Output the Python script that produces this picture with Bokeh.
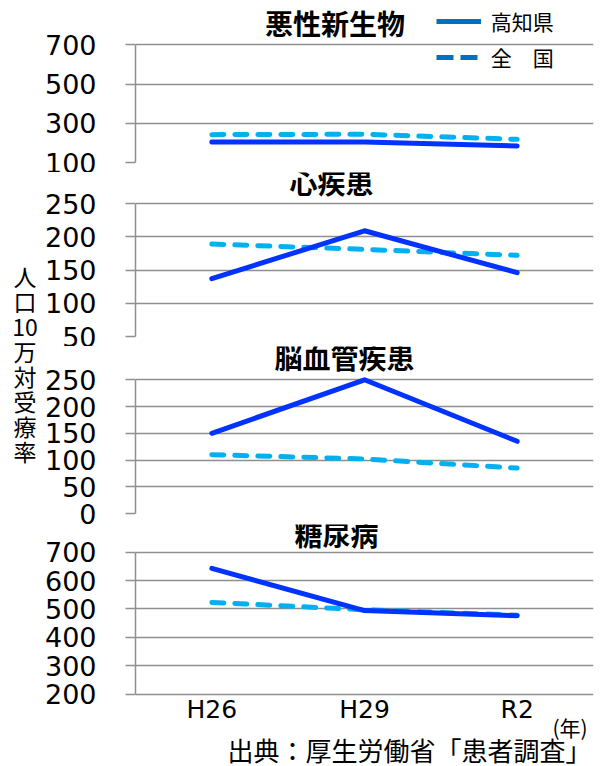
from bokeh.plotting import figure
from bokeh.models import (Range1d, FactorRange, FixedTicker, Label, Legend,
                          LegendItem, ColumnDataSource)
from bokeh.layouts import row, column
from bokeh.embed import file_html
from bokeh.resources import INLINE
from bokeh.core.properties import value

# ---------------- data ----------------
years = ["H26", "H29", "R2"]
series_names = ["高知県", "全　国"]
panel_titles = ["悪性新生物", "心疾患", "脳血管疾患", "糖尿病"]

kochi_cancer = [205, 205, 184]
nation_cancer = [242, 244, 218]
kochi_heart = [137, 209, 146]
nation_heart = [189, 181, 172]
kochi_stroke = [150, 250, 135]
nation_stroke = [110, 102, 85]
kochi_diabetes = [643, 494, 476]
nation_diabetes = [523, 497, 478]

ticks_cancer = [100, 300, 500, 700]
ticks_heart = [50, 100, 150, 200, 250]
ticks_stroke = [0, 50, 100, 150, 200, 250]
ticks_diabetes = [200, 300, 400, 500, 600, 700]

y_label_text = "人\n口\n10\n万\n対\n受\n療\n率"
year_unit_text = "(年)"
source_text = "出典：厚生労働省「患者調査」"

# ---------------- style / geometry (page pixels) ----------------
KOCHI = "#0033FF"
NATION = "#00B0F0"
LEGEND_COLOR = "#0070C0"
GRID = "#8F8F8F"
JP = "Noto Sans CJK JP"
NUM = "DejaVu Sans"

TOTAL_W, TOTAL_H = 613, 766
STRIP_W = 37
PANEL_W = TOTAL_W - STRIP_W
FRAME_LEFT = 135        # stacked plots share one frame edge
FRAME_RIGHT = 593


def make_panel(title, kochi, nation, ticks, canvas_top, canvas_bottom,
               grid_top, grid_bottom, frame_bottom, title_xy, show_x=False):
    height = int(canvas_bottom - canvas_top)
    upp = (ticks[-1] - ticks[0]) / (grid_bottom - grid_top)
    y_end = ticks[-1] + (grid_top - canvas_top) * upp
    y_start = ticks[0] - (frame_bottom - grid_bottom) * upp
    p = figure(width=PANEL_W, height=height,
               x_range=FactorRange(*years),
               y_range=Range1d(y_start, y_end),
               output_backend="svg", toolbar_location=None,
               x_axis_location="below" if show_x else None,
               y_axis_location="left", title_location=None,
               min_border_left=FRAME_LEFT - STRIP_W,
               min_border_right=TOTAL_W - FRAME_RIGHT,
               min_border_top=0,
               min_border_bottom=int(canvas_bottom - frame_bottom))
    p.outline_line_color = None
    p.xgrid.grid_line_color = None
    p.ygrid.grid_line_color = GRID
    p.ygrid.grid_line_width = 1.5
    p.ygrid.ticker = FixedTicker(ticks=ticks)

    ax = p.yaxis[0]
    ax.ticker = FixedTicker(ticks=ticks)
    ax.bounds = (ticks[0], ticks[-1])
    ax.axis_line_color = GRID
    ax.axis_line_width = 1.5
    ax.major_tick_line_color = GRID
    ax.major_tick_line_width = 1.5
    ax.major_tick_out = 10
    ax.major_tick_in = 0
    ax.minor_tick_line_color = None
    ax.major_label_standoff = 29
    ax.major_label_text_font = NUM
    ax.major_label_text_font_size = "27px"
    ax.major_label_text_color = "black"

    if show_x:
        xa = p.xaxis[0]
        xa.axis_line_color = None
        xa.major_tick_line_color = None
        xa.major_tick_out = 0
        xa.major_tick_in = 0
        xa.minor_tick_line_color = None
        # labels sit just under the lowest gridline (frame extends lower)
        xa.major_label_standoff = int(round((grid_bottom + 1) - frame_bottom))
        xa.major_label_text_font = NUM
        xa.major_label_text_font_size = "25px"
        xa.major_label_text_color = "black"

    src = ColumnDataSource(dict(x=years, kochi=kochi, nation=nation))
    p.line("x", "nation", source=src, line_color=NATION, line_width=5,
           line_dash="12 11", line_cap="round", line_join="round")
    p.line("x", "kochi", source=src, line_color=KOCHI, line_width=5,
           line_cap="round", line_join="round")

    p.add_layout(Label(x=title_xy[0] - FRAME_LEFT,
                       y=frame_bottom - title_xy[1],
                       x_units="screen", y_units="screen", text=title,
                       text_font=JP, text_font_size="28px",
                       text_font_style="bold", text_align="center",
                       text_baseline="middle", text_color="black"))
    return p


# canvas top/bottom, top gridline, bottom gridline, frame bottom
p1 = make_panel(panel_titles[0], kochi_cancer, nation_cancer, ticks_cancer,
                0, 172, 44.3, 162, 162, (334.5, 22))
p2 = make_panel(panel_titles[1], kochi_heart, nation_heart, ticks_heart,
                172, 346, 203, 336, 336, (331, 181))
p3 = make_panel(panel_titles[2], kochi_stroke, nation_stroke, ticks_stroke,
                346, 524, 379.3, 513, 513, (344, 356))
p4 = make_panel(panel_titles[3], kochi_diabetes, nation_diabetes,
                ticks_diabetes, 524, 766, 551.7, 693.5, 766, (336, 533),
                show_x=True)

# legend (drawn in a darker blue, as in the reference)
nan = float("nan")
r_k = p1.line(x=[years[0], years[1]], y=[nan, nan], line_color=LEGEND_COLOR,
              line_width=5)
r_n = p1.line(x=[years[0], years[1]], y=[nan, nan], line_color=LEGEND_COLOR,
              line_width=5, line_dash="17 7")
legend = Legend(items=[LegendItem(label=series_names[0], renderers=[r_k]),
                       LegendItem(label=series_names[1], renderers=[r_n])],
                location=(435.7 - FRAME_LEFT, 162 - 72.3),
                orientation="vertical",
                glyph_width=45, glyph_height=20, label_height=20,
                label_standoff=10, label_text_font=JP,
                label_text_font_size="21px", label_text_color="black",
                spacing=6, padding=0, margin=0,
                border_line_color=None, background_fill_alpha=0)
p1.add_layout(legend, "center")

# bottom notes (inside the lower, extended part of the last panel's frame)
p4.add_layout(Label(x=569.5 - FRAME_LEFT, y=766 - 726, x_units="screen",
                    y_units="screen", text=year_unit_text, text_font=JP,
                    text_font_size="21px", text_align="center",
                    text_baseline="middle", text_color="black"))
p4.add_layout(Label(x=FRAME_RIGHT - 2 - FRAME_LEFT, y=766 - 749,
                    x_units="screen", y_units="screen", text=source_text,
                    text_font=JP, text_font_size="26px", text_align="right",
                    text_baseline="middle", text_color="black"))

# vertical y-axis label in its own narrow strip
lf = figure(width=STRIP_W, height=TOTAL_H, x_range=Range1d(0, STRIP_W),
            y_range=Range1d(0, TOTAL_H), output_backend="svg",
            toolbar_location=None, x_axis_location=None,
            y_axis_location=None, title_location=None, min_border=0)
lf.outline_line_color = None
lf.xgrid.grid_line_color = None
lf.ygrid.grid_line_color = None
lf.text(x=[24.5], y=[TOTAL_H - 362.9], text=[y_label_text],
        text_font=value(JP), text_font_size="23px", text_align="center",
        text_baseline="middle", text_line_height=0.735, text_color="black")

layout = row(lf, column(p1, p2, p3, p4))

with open("out.html", "w") as f:
    f.write(file_html(layout, INLINE))
